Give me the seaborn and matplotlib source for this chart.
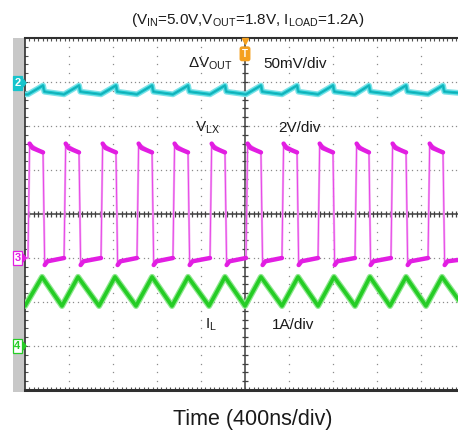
import matplotlib
matplotlib.use("Agg")
import numpy as np
import pandas as pd
import matplotlib.pyplot as plt
import seaborn as sns
from matplotlib.patches import Rectangle, Polygon

sns.set_style("white")
plt.rcParams["font.family"] = ["Liberation Sans", "DejaVu Sans"]
plt.rcParams["mathtext.default"] = "regular"

# ---------------------------------------------------------------------------
# Scope settings: 10 div x 400 ns, 8 vertical divisions
# ---------------------------------------------------------------------------
t_span_ns = 4000
n_div_y = 8

ch2_zero, ch2_per_div = 7.0, 50.0   # dVout  (mV/div)
ch3_zero, ch3_per_div = 3.0, 2.0    # VLX    (V/div)
ch4_zero, ch4_per_div = 1.0, 1.0    # IL     (A/div)

# ---------------------------------------------------------------------------
# Values
# ---------------------------------------------------------------------------
# switch node edges (ns)
lx_rise_ns = [27, 355, 691, 1018, 1345, 1682, 2009, 2336, 2664, 3000, 3327, 3664]
lx_fall_ns = [164, 491, 827, 1155, 1482, 1818, 2145, 2473, 2800, 3127, 3464, 3800]
lx_high_v = [5.2, 5.0, 4.8]       # overshoot / early on-time / end of on-time
lx_low_v = [-0.32, -0.15, 0.0]    # undershoot / plateau / before next edge

# inductor current corners
il_valley_ns = [0, 336, 673, 1009, 1336, 1673, 2000, 2336, 2664, 3000, 3318, 3645, 3982]
il_peak_ns = [155, 482, 818, 1155, 1482, 1818, 2145, 2482, 2809, 3136, 3464, 3791]
il_valley_a = 0.91
il_peak_a = 1.57

# output ripple (mV)
vout_at_rise_mv = -14.0
vout_at_fall_mv = -4.0
vout_after_drop_mv = -11.0

# colours
c_cyan, c_cyan_lt = "#17c4cc", "#7fe3e8"
c_pink, c_pink_lt = "#e21ee2", "#f2a6f2"
c_green, c_green_lt = "#25cc25", "#8ee88e"
c_trig = "#f5a01e"

# ---------------------------------------------------------------------------
# Build the traces (in divisions)
# ---------------------------------------------------------------------------
edge = 15  # ns, edge transition

lx_rows = []
seg = 0
lx_line = [(0, lx_low_v[2])]
for i, (tr, tf) in enumerate(zip(lx_rise_ns, lx_fall_ns)):
    lx_line += [(tr, lx_low_v[2]), (tr + edge, lx_high_v[0]), (tf, lx_high_v[2]),
                (tf + edge, lx_low_v[0]), (tf + 40, lx_low_v[1])]
    lx_rows += [(seg, tr + edge, lx_high_v[0]), (seg, tr + 40, lx_high_v[1]),
                (seg, tf, lx_high_v[2])]
    seg += 1
    t_next = lx_rise_ns[i + 1] if i + 1 < len(lx_rise_ns) else t_span_ns
    v_next = lx_low_v[2] if i + 1 < len(lx_rise_ns) else -0.05
    lx_rows += [(seg, tf + edge, lx_low_v[0]), (seg, tf + 40, lx_low_v[1]), (seg, t_next, v_next)]
    seg += 1
lx_line.append((t_span_ns, -0.05))

lx_df = pd.DataFrame(lx_line, columns=["t", "v"])
lx_df["div"] = ch3_zero + lx_df["v"] / ch3_per_div
lx_flat = pd.DataFrame(lx_rows, columns=["seg", "t", "v"])
lx_flat["div"] = ch3_zero + lx_flat["v"] / ch3_per_div

il_pts = sorted([(t, il_valley_a) for t in il_valley_ns] + [(t, il_peak_a) for t in il_peak_ns])
il_df = pd.DataFrame(il_pts, columns=["t", "a"])
il_df["div"] = ch4_zero + il_df["a"] / ch4_per_div

vo_pts = [(0, vout_at_rise_mv)]
for tr, tf in zip(lx_rise_ns, lx_fall_ns):
    vo_pts += [(tr, vout_at_rise_mv), (tf, vout_at_fall_mv), (tf + 12, vout_after_drop_mv)]
vo_pts.append((t_span_ns, vout_at_rise_mv + 1))
vo_df = pd.DataFrame(vo_pts, columns=["t", "mv"])
vo_df["div"] = ch2_zero + vo_df["mv"] / ch2_per_div

# ---------------------------------------------------------------------------
# Figure
# ---------------------------------------------------------------------------
W, H = 458, 432
fig = plt.figure(figsize=(W / 100, H / 100), dpi=100)
ax = fig.add_axes([25 / W, 42 / H, 440 / W, 352 / H])
ax.set_xlim(0, t_span_ns)
ax.set_ylim(0, n_div_y)
ax.set_xticks([])
ax.set_yticks([])
ax.spines["right"].set_visible(False)
ax.spines["top"].set_color("#303030")
ax.spines["top"].set_linewidth(1.5)
ax.spines["left"].set_color("#303030")
ax.spines["left"].set_linewidth(1.2)
ax.spines["bottom"].set_color("#303030")
ax.spines["bottom"].set_linewidth(2.2)

# gray strip on the left of the screen
fig.add_artist(Rectangle((13 / W, 40 / H), 12 / W, 354 / H, transform=fig.transFigure,
                         fc="#c8c8c8", ec="none", zorder=0))

# dotted graticule
minor_y = np.arange(0.2, n_div_y, 0.2)
minor_x = np.arange(40, t_span_ns, 40)
for xd in range(400, t_span_ns, 400):
    if xd == 2000:
        continue
    ax.plot([xd] * len(minor_y), minor_y, ls="none", marker="s", ms=0.9, mew=0,
            color="#8c8c8c", zorder=1)
for yd in range(1, n_div_y):
    if yd == 4:
        continue
    ax.plot(minor_x, [yd] * len(minor_x), ls="none", marker="s", ms=0.9, mew=0,
            color="#8c8c8c", zorder=1)

# center crosshair with ticks
ax.axhline(4, color="#404040", lw=1.1, zorder=2)
ax.axvline(2000, color="#404040", lw=1.1, zorder=2)
ax.plot([2000] * len(minor_y), minor_y, ls="none", marker="_", ms=4.5, mew=0.9,
        color="#404040", zorder=2)
ax.plot(minor_x, [4] * len(minor_x), ls="none", marker="|", ms=4.5, mew=0.9,
        color="#404040", zorder=2)
# inward ticks on the border
ax.plot(minor_x, [n_div_y] * len(minor_x), ls="none", marker="|", ms=4.5, mew=0.8,
        color="#505050", zorder=2)
ax.plot(minor_x, [0] * len(minor_x), ls="none", marker="|", ms=5, mew=0.8,
        color="#505050", zorder=2)
ax.plot([0] * len(minor_y), minor_y, ls="none", marker="_", ms=4.5, mew=0.8,
        color="#505050", zorder=2)

# traces
sns.lineplot(data=vo_df, x="t", y="div", sort=False, estimator=None, ax=ax,
             color=c_cyan_lt, lw=4.2, zorder=3)
sns.lineplot(data=vo_df, x="t", y="div", sort=False, estimator=None, ax=ax,
             color=c_cyan, lw=2.2, zorder=4)
sns.lineplot(data=vo_df, x="t", y="div", sort=False, estimator=None, ax=ax,
             color="#128a90", lw=0.5, alpha=0.6, zorder=4)

sns.lineplot(data=lx_df, x="t", y="div", sort=False, estimator=None, ax=ax,
             color=c_pink_lt, lw=1.6, zorder=3)
sns.lineplot(data=lx_df, x="t", y="div", sort=False, estimator=None, ax=ax,
             color=c_pink, lw=0.7, alpha=0.7, zorder=3)
sns.lineplot(data=lx_flat, x="t", y="div", units="seg", sort=False, estimator=None,
             ax=ax, color=c_pink, lw=3.2, zorder=4)

sns.lineplot(data=il_df, x="t", y="div", sort=False, estimator=None, ax=ax,
             color=c_green_lt, lw=4.4, zorder=3)
sns.lineplot(data=il_df, x="t", y="div", sort=False, estimator=None, ax=ax,
             color=c_green, lw=2.6, zorder=4)
ax.set_xlabel("")
ax.set_ylabel("")

# trigger marker
ax.plot(2000, 7.94, marker="v", ms=5, color=c_trig, clip_on=False, zorder=6)
ax.text(2000, 7.64, "T", ha="center", va="center", color="white", fontsize=7,
        fontweight="bold", zorder=6,
        bbox=dict(boxstyle="round,pad=0.18", fc=c_trig, ec=c_trig))

# channel markers in the strip
def ch_marker(num, y_px, fc, ec, tc):
    fig.text(17.5 / W, 1 - y_px / H, num, ha="center", va="center", fontsize=8,
             fontweight="bold", color=tc, zorder=6,
             bbox=dict(boxstyle="square,pad=0.15", fc=fc, ec=ec, lw=0.9))
    fig.add_artist(Polygon([[23 / W, 1 - (y_px - 4) / H], [26 / W, 1 - y_px / H],
                            [23 / W, 1 - (y_px + 4) / H]], closed=True,
                           transform=fig.transFigure, fc=ec, ec=ec, zorder=5))

ch_marker("2", 83, c_cyan, c_cyan, "white")
ch_marker("3", 258, "white", c_pink, c_pink)
ch_marker("4", 346, "white", c_green, c_green)

# channel labels
lab_kw = dict(fontsize=11, color="#1a1a1a", va="baseline", ha="left", zorder=6)
ax.text(1482, 7.32, r"$\Delta$V$_{OUT}$", **lab_kw)
ax.text(2164, 7.32, "50mV/div", **lab_kw)
ax.text(1545, 5.87, r"V$_{LX}$", **lab_kw)
ax.text(2300, 5.87, "2V/div", **lab_kw)
ax.text(1636, 1.39, r"I$_{L}$", **lab_kw)
ax.text(2245, 1.39, "1A/div", **lab_kw)

fig.text(248 / W, 1 - 24 / H, r"(V$_{IN}$=5.0V,V$_{OUT}$=1.8V, I$_{LOAD}$=1.2A)",
         ha="center", va="baseline", fontsize=11, color="#1a1a1a")
fig.text(253 / W, 1 - 425 / H, "Time (400ns/div)", ha="center", va="baseline",
         fontsize=15.5, color="#1a1a1a")

fig.savefig("out.png", dpi=100)
